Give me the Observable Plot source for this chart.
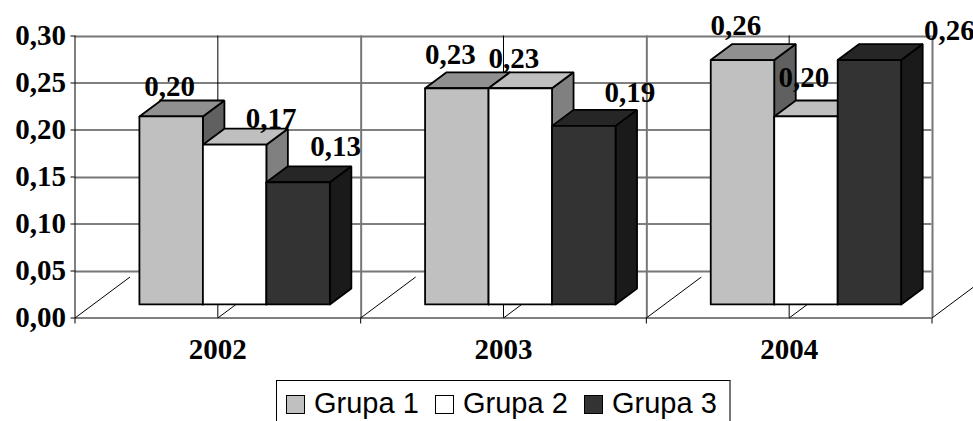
<!DOCTYPE html>
<html>
<head>
<meta charset="utf-8">
<script src="https://cdn.jsdelivr.net/npm/d3@7"></script>
<script src="https://cdn.jsdelivr.net/npm/@observablehq/plot@0.6"></script>
<style>
  html, body { margin: 0; padding: 0; background: #fff; width: 973px; height: 421px; overflow: hidden; }
  #chart svg { display: block; overflow: visible; }
  #legend {
    position: absolute; left: 276px; top: 380px; width: 455px; height: 50px; box-sizing: border-box;
    border: 1px solid #000; border-right: 2px solid #777; background: #fff;
    font-family: "Liberation Sans", Arial, sans-serif; font-size: 29px; color: #000;
  }
  #legend .item { position: absolute; top: 0; height: 48px; white-space: nowrap; }
  #legend .swatch {
    position: absolute; top: 14px; left: 0; width: 19px; height: 19px; box-sizing: border-box; border: 1.5px solid #000;
  }
  #legend .name { position: absolute; left: 28px; top: 5px; line-height: 34px; }
</style>
</head>
<body>
<div id="chart"></div>
<div id="legend"></div>
<script>
const years = ["2002", "2003", "2004"];
const groupNames = ["Grupa 1", "Grupa 2", "Grupa 3"];
const grupa1 = [0.20, 0.23, 0.26];
const grupa2 = [0.17, 0.23, 0.20];
const grupa3 = [0.13, 0.19, 0.26];
const valueTicks = [0, 0.05, 0.10, 0.15, 0.20, 0.25, 0.30];

// Face shades per series: front, top, side.
const shades = [
  ["#C0C0C0", "#909090", "#606060"],
  ["#FFFFFF", "#BFBFBF", "#808080"],
  ["#333333", "#262626", "#1A1A1A"]
];

// Pseudo-3D layout, expressed in scale units (categories across, value up).
const barWidth = 0.2222;
const groupInset = 0.2255;
const barDepthX = 0.0753;
const barDepthY = 0.0170;
const frontLift = 0.0144;
const floorDepthX = 0.1925;
const floorDepthY = 0.0436;

// Hand placement of each value label, in pixels from the bar's front top centre.
const labelNudge = [
  [[-1.5, -20], [-6.5, -24], [-6.5, -25]],
  [[36.5, -17], [-6.5, -20], [-2, -29]],
  [[37.5, -26], [46, -24], [80, -20]]
];

const series = [grupa1, grupa2, grupa3];
const faces = [];
const labels = [];
series.forEach((vals, s) => {
  vals.forEach((v, k) => {
    const x0 = k + groupInset + s * barWidth;
    const x1 = x0 + barWidth;
    const y0 = frontLift;
    const y1 = frontLift + v;
    const polys = [
      [2, [[x1, y0], [x1 + barDepthX, y0 + barDepthY], [x1 + barDepthX, y1 + barDepthY], [x1, y1]]],
      [1, [[x0, y1], [x0 + barDepthX, y1 + barDepthY], [x1 + barDepthX, y1 + barDepthY], [x1, y1]]],
      [0, [[x0, y0], [x0, y1], [x1, y1], [x1, y0]]]
    ];
    polys.forEach(([shade, pts]) => {
      const id = `${k}-${s}-${shade}`;
      [...pts, pts[0]].forEach(([x, y]) => faces.push({id, x, y, color: shades[s][shade]}));
    });
    labels.push({x: (x0 + x1) / 2, y: y1, v, nudge: labelNudge[s][k]});
  });
});

const decimalComma = (d) => d.toFixed(2).replace(".", ",");

// Gridlines come in two weights; the heavier grey ones sit half a pixel lower or further right.
const softValues = [0.05, 0.15, 0.30];
const softColumns = [1, 2, 3];
const floorColumns = [0, 0.5, 1, 1.5, 2, 2.5, 3];

const plot = Plot.plot({
  width: 973,
  height: 380,
  marginLeft: 74.5,
  marginRight: 41.5,
  marginTop: 35.5,
  marginBottom: 62.5,
  style: {background: "#fff", fontFamily: "'Liberation Serif', 'Times New Roman', serif", fontWeight: "bold", fontSize: "29px", color: "#000"},
  x: {domain: [0, 3], range: [74.5, 931.5]},
  y: {domain: [0, 0.3], range: [317.5, 35.5]},
  marks: [
    Plot.ruleY(valueTicks.filter((d) => !softValues.includes(d)), {stroke: "#000", strokeWidth: 1}),
    Plot.ruleY(softValues, {stroke: "#777", strokeWidth: 2, dy: 0.5}),
    Plot.ruleX(floorColumns.filter((d) => !softColumns.includes(d)), {y1: 0, y2: 0.3, stroke: "#000", strokeWidth: 1}),
    Plot.ruleX(softColumns, {y1: 0, y2: 0.3, stroke: "#777", strokeWidth: 2, dx: 0.5}),
    Plot.link(floorColumns, {
      x1: (d) => d, y1: () => 0,
      x2: (d) => d + floorDepthX, y2: () => floorDepthY,
      stroke: "#000", strokeWidth: 1
    }),
    Plot.axisY({
      ticks: valueTicks, tickFormat: decimalComma, tickSize: 4, tickPadding: 5,
      label: null, stroke: "#000", strokeWidth: 1
    }),
    Plot.axisX({ticks: [0, 1, 2, 3], tickSize: 6, tickFormat: () => "", label: null, stroke: "#000"}),
    Plot.axisX({
      ticks: [0.5, 1.5, 2.5], tickFormat: (d) => years[d - 0.5], tickSize: 0, tickPadding: 20, label: null
    }),
    Plot.line(faces, {
      x: "x", y: "y", z: "id", fill: "color",
      stroke: "#000", strokeWidth: 1.8, strokeLinejoin: "miter"
    }),
    ...labels.map((l) => Plot.text([l], {
      x: "x", y: "y", text: (d) => decimalComma(d.v),
      dx: l.nudge[0], dy: l.nudge[1], textAnchor: "middle", lineAnchor: "bottom",
      fill: "#000", fontSize: 29, fontWeight: "bold"
    }))
  ]
});
document.getElementById("chart").append(plot);

// Legend row under the plot, with the front shade of each series.
const legendLefts = [9, 158, 307];
const legend = document.getElementById("legend");
groupNames.forEach((name, i) => {
  const item = document.createElement("div");
  item.className = "item";
  item.style.left = legendLefts[i] - 0 + "px";
  const sw = document.createElement("span");
  sw.className = "swatch";
  sw.style.background = shades[i][0];
  const label = document.createElement("span");
  label.className = "name";
  label.textContent = name;
  item.append(sw, label);
  legend.append(item);
});
</script>
</body>
</html>
